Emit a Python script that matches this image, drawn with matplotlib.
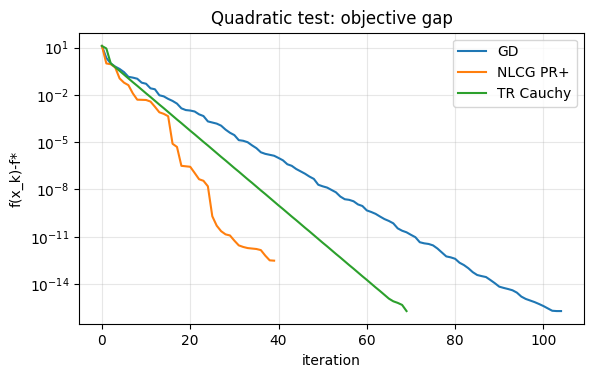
import numpy as np
import matplotlib
matplotlib.use("Agg")
import matplotlib.pyplot as plt
from matplotlib.ticker import NullLocator, FixedLocator

# log10 of objective gap
gd_log10 = [1.11, 0.35, 0.00, -0.20, -0.35, -0.55, -0.85, -0.90, -0.97, -1.22,
            -1.29, -1.58, -1.64, -2.02, -2.09, -2.25, -2.38, -2.55, -2.85, -2.96,
            -2.99, -3.05, -3.23, -3.34, -3.68, -3.75, -3.82, -3.95, -4.20, -4.40,
            -4.55, -4.87, -4.91, -5.00, -5.20, -5.38, -5.64, -5.74, -5.80, -5.86,
            -6.00, -6.15, -6.40, -6.50, -6.70, -6.85, -7.00, -7.18, -7.33, -7.70,
            -7.80, -7.88, -8.03, -8.18, -8.45, -8.62, -8.66, -8.75, -8.95, -9.05,
            -9.33, -9.43, -9.55, -9.72, -9.88, -10.00, -10.15, -10.47, -10.62, -10.72,
            -10.88, -11.03, -11.35, -11.42, -11.46, -11.55, -11.75, -12.00, -12.25, -12.31,
            -12.40, -12.65, -12.80, -13.00, -13.25, -13.43, -13.50, -13.56, -13.75, -13.95,
            -14.17, -14.25, -14.32, -14.40, -14.55, -14.80, -14.95, -15.05, -15.15, -15.27,
            -15.40, -15.55, -15.70, -15.72, -15.72]

nlcg_log10 = [1.11, 0.00, -0.05, -0.25, -0.95, -1.22, -1.38, -1.90, -2.30, -2.31,
              -2.32, -2.42, -2.75, -3.10, -3.20, -3.35, -5.10, -5.30, -6.50, -6.53,
              -6.56, -6.95, -7.35, -7.45, -7.80, -9.70, -10.30, -10.65, -10.85, -10.92,
              -11.25, -11.55, -11.65, -11.72, -11.75, -11.78, -11.85, -12.20, -12.50, -12.52]

tr_log10 = [1.11, 0.95, 0.00, -0.24, -0.47, -0.71, -0.95, -1.19, -1.42, -1.66,
            -1.90, -2.13, -2.37, -2.61, -2.84, -3.08, -3.32, -3.56, -3.79, -4.03,
            -4.27, -4.50, -4.74, -4.98, -5.21, -5.45, -5.69, -5.93, -6.16, -6.40,
            -6.64, -6.87, -7.11, -7.35, -7.58, -7.82, -8.06, -8.29, -8.53, -8.77,
            -9.01, -9.24, -9.48, -9.72, -9.95, -10.19, -10.43, -10.66, -10.90, -11.14,
            -11.38, -11.61, -11.85, -12.09, -12.32, -12.56, -12.80, -13.03, -13.27, -13.51,
            -13.74, -13.98, -14.22, -14.45, -14.69, -14.93, -15.10, -15.20, -15.33, -15.72]

labels = ["GD", "NLCG PR+", "TR Cauchy"]
ytick_exps = [1, -2, -5, -8, -11, -14]

fig = plt.figure(figsize=(5.92, 3.78), dpi=100)
ax = fig.add_axes([0.1334, 0.142, 0.8531, 0.7715])

for series, lab in zip([gd_log10, nlcg_log10, tr_log10], labels):
    ax.plot(np.arange(len(series)), np.power(10.0, np.array(series)), label=lab, lw=1.5)

ax.set_yscale("log")
ax.yaxis.set_major_locator(FixedLocator([10.0 ** e for e in ytick_exps]))
ax.yaxis.set_minor_locator(NullLocator())
ax.grid(True, alpha=0.3)
ax.set_title("Quadratic test: objective gap")
ax.set_xlabel("iteration")
ax.set_ylabel("f(x_k)-f*")
ax.legend(loc="upper right")

fig.savefig("out.png", dpi=100)
